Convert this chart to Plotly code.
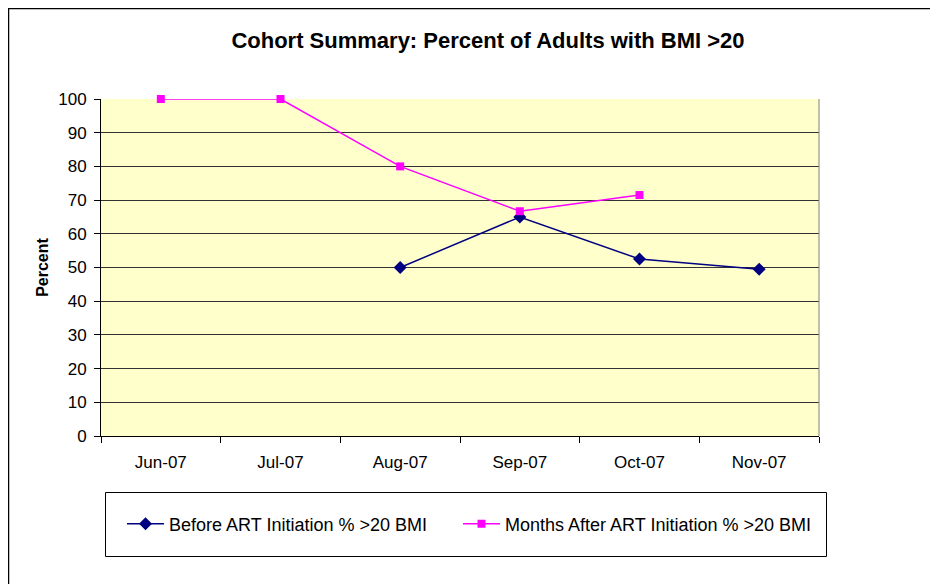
import plotly.graph_objects as go

months = ["Jun-07", "Jul-07", "Aug-07", "Sep-07", "Oct-07", "Nov-07"]
before_art = [None, None, 50, 65, 52.5, 49.5]
after_art = [100, 100, 80, 66.7, 71.5, None]
y_ticks = list(range(0, 101, 10))

# page is rendered with an 8px body margin, so figure coords = page coords - 8
OFF = 8
W, H = 938 - OFF, 584 - OFF
L, R, T, B = 101 - OFF, 819 - OFF, 99 - OFF, 436 - OFF  # plot area (figure px)


def px(x):
    return (x - OFF - L) / (R - L)


def py(y):
    return (B - (y - OFF)) / (B - T)


fig = go.Figure()
fig.add_trace(go.Scatter(
    x=months, y=before_art, mode="lines+markers",
    name="Before ART Initiation % >20 BMI",
    line=dict(color="#000080", width=1.5),
    marker=dict(symbol="diamond", size=10, color="#000080"),
    cliponaxis=False,
    legend="legend",
))
fig.add_trace(go.Scatter(
    x=months, y=after_art, mode="lines+markers",
    name="Months After ART Initiation % >20 BMI",
    line=dict(color="#FF00FF", width=1.5),
    marker=dict(symbol="square", size=8, color="#FF00FF"),
    cliponaxis=False,
    legend="legend2",
))

font_family = "Liberation Sans, Arial, sans-serif"
legend_common = dict(
    orientation="h",
    xanchor="left",
    y=py(524), yanchor="middle",
    font=dict(size=18, family=font_family, color="black"),
    itemwidth=37,
    bgcolor="rgba(0,0,0,0)",
    borderwidth=0,
)

fig.update_layout(
    width=W, height=H,
    margin=dict(l=L, r=W - R, t=T, b=H - B),
    paper_bgcolor="white",
    plot_bgcolor="#FFFFCC",
    font=dict(family=font_family, size=17, color="black"),
    title=dict(
        text="<b>Cohort Summary: Percent of Adults with BMI >20</b>",
        x=(488 - OFF) / W, xref="container", xanchor="center",
        y=1 - (40 - OFF) / H, yref="container", yanchor="middle",
        font=dict(size=22, family=font_family, color="black"),
    ),
    showlegend=True,
    legend=dict(x=px(122), **legend_common),
    legend2=dict(x=px(458), **legend_common),
    xaxis=dict(
        type="category",
        categoryorder="array", categoryarray=months,
        range=[-0.5, 5.5],
        showline=True, linecolor="black", linewidth=1,
        ticks="outside", ticklen=6, tickcolor="black",
        tickson="boundaries",
        showgrid=False, zeroline=False,
        tickfont=dict(size=17),
        ticklabelstandoff=11,
    ),
    yaxis=dict(
        range=[0, 100],
        tickvals=y_ticks,
        showline=True, linecolor="black", linewidth=1,
        ticks="outside", ticklen=6, tickcolor="black",
        showgrid=True, gridcolor="#333333", gridwidth=1,
        zeroline=False,
        tickfont=dict(size=17),
        ticklabelstandoff=4,
        title=dict(text="<b>Percent</b>", font=dict(size=16), standoff=5),
    ),
    shapes=[
        # outer chart border
        dict(type="rect", xref="paper", yref="paper",
             x0=px(8.5), x1=px(938 + 20), y0=py(584 + 20), y1=py(8.5),
             line=dict(color="black", width=1.5), fillcolor="rgba(0,0,0,0)",
             layer="below"),
        # plot area border (right side gray)
        dict(type="line", xref="paper", yref="paper",
             x0=1, x1=1, y0=0, y1=1,
             line=dict(color="#808080", width=1)),
        # legend box
        dict(type="rect", xref="paper", yref="paper",
             x0=px(105.5), x1=px(826.5), y0=py(556.5), y1=py(492.5),
             line=dict(color="black", width=1), fillcolor="rgba(0,0,0,0)"),
    ],
)

fig.write_html("out.html")
